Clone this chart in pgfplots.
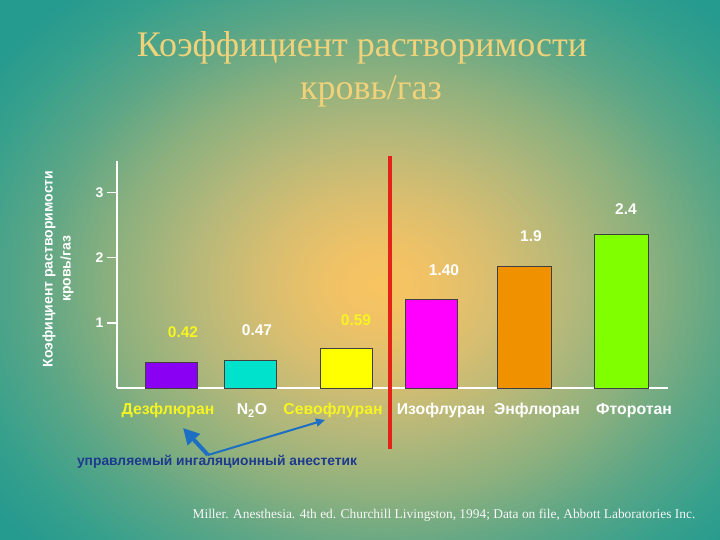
\documentclass[border=0pt]{standalone}
\usepackage{fontspec}
\setmainfont{Liberation Serif}
\setsansfont{Liberation Sans}
\usepackage{pgfplots}
\pgfplotsset{compat=1.18}
\usetikzlibrary{arrows.meta}

\definecolor{cA}{HTML}{F8C460}
\definecolor{cB}{HTML}{F0C266}
\definecolor{cC}{HTML}{D8BE70}
\definecolor{cD}{HTML}{B4B87A}
\definecolor{cE}{HTML}{8CB07E}
\definecolor{cF}{HTML}{5CA686}
\definecolor{cG}{HTML}{36A08C}
\definecolor{cH}{HTML}{259A8F}
\pgfdeclareradialshading{bgshade}{\pgfpoint{0bp}{0bp}}{color(0bp)=(cA); color(2.5bp)=(cB); color(6bp)=(cC); color(10bp)=(cD); color(14bp)=(cE); color(18bp)=(cF); color(22bp)=(cG); color(25bp)=(cH); color(50bp)=(cH)}

\definecolor{titlecol}{HTML}{EFD27A}
\definecolor{labyellow}{HTML}{F6F521}
\definecolor{cDes}{HTML}{8A00F2}
\definecolor{cNO}{HTML}{00E2CC}
\definecolor{cSev}{HTML}{FFFF00}
\definecolor{cIso}{HTML}{FF00FF}
\definecolor{cEnf}{HTML}{F09200}
\definecolor{cHal}{HTML}{80FF00}
\definecolor{redline}{HTML}{E4221A}
\definecolor{arrowblue}{HTML}{1C6FC2}
\definecolor{textblue}{HTML}{1D3A8E}

\begin{document}
\begin{tikzpicture}
\useasboundingbox (0pt,0pt) rectangle (720pt,540pt);
\begin{scope}
\clip (0pt,0pt) rectangle (720pt,540pt);
\shade[shading=bgshade] (-100pt,-125pt) rectangle (860pt,635pt);
\end{scope}

% title
\node[anchor=base, text=titlecol, font=\fontsize{36}{40}\selectfont, inner sep=0pt] at (362pt,483pt) {Коэффициент растворимости};
\node[anchor=base, text=titlecol, font=\fontsize{36}{40}\selectfont, inner sep=0pt] at (371pt,440pt) {кровь/газ};

\begin{axis}[
  at={(117pt,152pt)}, anchor=south west,
  scale only axis, width=551pt, height=227pt,
  xmin=1.17, xmax=6.68, ymin=0, ymax=3.48,
  axis lines=left,
  axis line style={-, white, line width=2pt},
  ytick={1,2,3}, xtick=\empty,
  tick align=outside, major tick length=10pt,
  ytick style={white, line width=1.5pt},
  yticklabel style={text=white, font=\sffamily\bfseries\fontsize{14}{16}\selectfont},
  /pgf/number format/assume math mode=true,
  clip=false,
]
\addplot[ybar, bar width=52pt, bar shift=0pt, fill=cDes, draw=black!75, line width=0.8pt] coordinates {(1.71,0.40)};
\addplot[ybar, bar width=52pt, bar shift=0pt, fill=cNO, draw=black!75, line width=0.8pt] coordinates {(2.50,0.43)};
\addplot[ybar, bar width=52pt, bar shift=0pt, fill=cSev, draw=black!75, line width=0.8pt] coordinates {(3.46,0.61)};
\addplot[ybar, bar width=52pt, bar shift=0pt, fill=cIso, draw=black!75, line width=0.8pt] coordinates {(4.31,1.36)};
\addplot[ybar, bar width=54pt, bar shift=0pt, fill=cEnf, draw=black!75, line width=0.8pt] coordinates {(5.245,1.87)};
\addplot[ybar, bar width=54pt, bar shift=0pt, fill=cHal, draw=black!75, line width=0.8pt] coordinates {(6.21,2.36)};

\addplot[draw=none, mark=none, nodes near coords, point meta=explicit symbolic,
  nodes near coords style={anchor=center, text=labyellow, font=\sffamily\bfseries\fontsize{15.5}{17}\selectfont}]
  table[meta=lab] {
x y lab
1.83 0.858 0.42
3.56 1.04 0.59
};
\addplot[draw=none, mark=none, nodes near coords, point meta=explicit symbolic,
  nodes near coords style={anchor=center, text=white, font=\sffamily\bfseries\fontsize{15.5}{17}\selectfont}]
  table[meta=lab] {
x y lab
2.57 0.888 0.47
4.44 1.81 1.40
5.31 2.33 1.9
6.26 2.74 2.4
};
\end{axis}

% category labels
\begin{scope}[every node/.style={font=\sffamily\bfseries\fontsize{15.8}{18}\selectfont, anchor=base, inner sep=0pt}]
\node[text=labyellow] at (168pt,125.5pt) {Дезфлюран};
\node[text=white] at (252pt,125.5pt) {N\textsubscript{2}O};
\node[text=labyellow] at (333pt,125.5pt) {Севофлуран};
\node[text=white] at (441pt,125.5pt) {Изофлуран};
\node[text=white] at (537pt,125.5pt) {Энфлюран};
\node[text=white] at (634pt,125.5pt) {Фторотан};
\end{scope}

% red divider
\draw[redline, line width=4pt] (390pt,384pt) -- (390pt,91pt);

% y label
\node[rotate=90, align=center, text=white, font=\sffamily\bfseries\fontsize{14}{18}\selectfont] at (58pt,271pt) {Коэфициент растворимости\\кровь/газ};

% arrows and annotation
\draw[arrowblue, line width=4pt, -{Triangle[length=16pt,width=16pt]}] (208pt,85pt) -- (183pt,112pt);
\draw[arrowblue, line width=2pt, -{Triangle[length=9pt,width=8pt]}] (208pt,85pt) -- (325pt,120pt);
\node[text=textblue, font=\sffamily\bfseries\fontsize{13.8}{15}\selectfont] at (217pt,78pt) {управляемый ингаляционный анестетик};

% footnote
\node[anchor=base, text=white!94!gray, font=\fontsize{13.4}{15}\selectfont, inner sep=0pt] at (444pt,21pt) {Miller. Anesthesia. 4th ed. Churchill Livingston, 1994; Data on file, Abbott Laboratories Inc.};
\end{tikzpicture}
\end{document}
